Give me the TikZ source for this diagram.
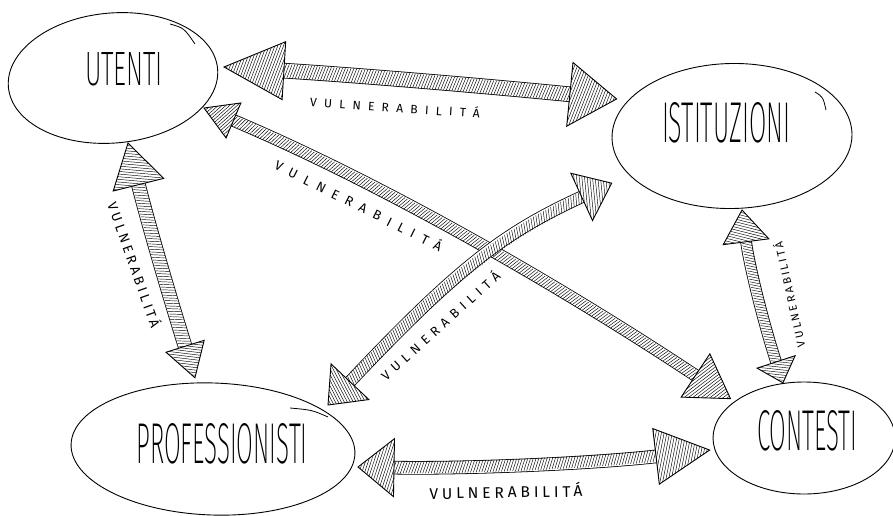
\documentclass[tikz,border=0pt]{standalone}
\usepackage{fontspec}
\usepackage{graphicx}
\setmainfont{Liberation Sans}
\IfFontExistsTF{Fira Sans ExtraLight}
  {\newfontfamily\thinf{Fira Sans ExtraLight}}
  {\IfFontExistsTF{Fira Sans Light}
     {\newfontfamily\thinf{Fira Sans Light}}
     {\newfontfamily\thinf{Liberation Sans}}}
\newfontfamily\labf{Fira Sans}
\usetikzlibrary{shapes.geometric,decorations.markings}

% #1 target width, #2 font size, #3 letter spacing
\newcommand\vul[3]{\resizebox{#1pt}{!}{\labf\fontsize{#2pt}{#2pt}\selectfont\addfontfeature{LetterSpace=#3}VULNERABILITÁ}}
\newcommand\ttlbox[3]{\resizebox{#1pt}{#2pt}{\thinf\fontsize{40pt}{40pt}\selectfont #3}}
% arrow head drawn in the local frame of a marking: #1 length, #2 half width, #3 side (+1 start, -1 end)
\newcommand\arrhead[3]{%
  \fill[white] (0pt,0pt) -- ({#3*#1*1pt},{#2*1pt}) -- ({#3*#1*1pt},{-#2*1pt}) -- cycle;
  \begin{scope}
    \clip (0pt,0pt) -- ({#3*#1*1pt},{#2*1pt}) -- ({#3*#1*1pt},{-#2*1pt}) -- cycle;
    \foreach \k in {-30,...,30}
      \draw[line width=0.45pt] ({\k*2.8pt-9pt},{-#2*1pt}) -- ++(18pt,{2*#2*1pt});
  \end{scope}
  \draw[line width=0.9pt, line join=miter] (0pt,0pt) -- ({#3*#1*1pt},{#2*1pt}) -- ({#3*#1*1pt},{-#2*1pt}) -- cycle;
}

\tikzset{
  ell/.style={draw, ellipse, line width=0.9pt, inner sep=0pt},
  ttl/.style={inner sep=0pt},
  lab/.style={inner sep=0pt},
  handline/.style={line width=0.8pt},
  hatched/.style n args={5}{%
    postaction={draw, line width=0.8pt, double=white, double distance=#1pt,
                shorten <={#2pt-1pt}, shorten >={#4pt-1pt}},
    postaction={decorate, decoration={markings,
      mark=between positions #2pt and -#4pt step 2.8pt with
        {\draw[line width=0.45pt] (-2.2pt,{-0.5*#1pt}) -- (2.2pt,{0.5*#1pt});}}},
    postaction={decorate, decoration={markings,
      mark=at position 0 with {\arrhead{#2}{#3}{1}},
      mark=at position 0.999 with {\arrhead{#4}{#5}{-1}}}}
  }
}

\begin{document}
\begin{tikzpicture}[x=1pt,y=-1pt]
\fill[white] (0,0) rectangle (893,516);
\useasboundingbox (0,0) rectangle (893,516);

% ellipses
\node[ell, minimum width=210pt, minimum height=130pt, rotate=5] (ut) at (113,78) {};
\node[ell, minimum width=240pt, minimum height=145pt, rotate=1] (is) at (732,136) {};
\node[ell, minimum width=284pt, minimum height=132pt, rotate=-2] (pr) at (213,449) {};
\node[ell, minimum width=182pt, minimum height=112pt] (co) at (804,438) {};

% hand-drawn overlaps of the ellipse strokes
\draw[handline] (170,24) .. controls (184,28) .. (195,44);
\draw[handline] (815,92) .. controls (823,97) .. (826,110);
\draw[handline] (290,408) .. controls (312,410) .. (328,417);

% titles
\node[ttl] (utt) at (124,69) {\ttlbox{78}{33}{UTENTI}};
\node[ttl] (ist) at (726,123) {\ttlbox{128}{40}{ISTITUZIONI}};
\node[ttl] (prt) at (222,444) {\ttlbox{171}{40}{PROFESSIONISTI}};
\node[ttl] (cot) at (807,431) {\ttlbox{100}{40}{CONTESTI}};

% arrow end points
\coordinate (a1s) at (224,67);  \coordinate (a1e) at (617,99);
\coordinate (a2s) at (204,108); \coordinate (a2e) at (731,399);
\coordinate (a3s) at (128,143); \coordinate (a3e) at (195,378);
\coordinate (a4s) at (328,405); \coordinate (a4e) at (612,183);
\coordinate (a5s) at (742,210); \coordinate (a5e) at (783,383);
\coordinate (a6s) at (358,467); \coordinate (a6e) at (710,450);

% arrows
\path[hatched={14}{60}{29}{47}{32}] (a1s) .. controls (355,75) and (486,86) .. (a1e);
\path[hatched={11}{32}{19}{42}{26}] (a2s) .. controls (379,182) and (556,283) .. (a2e);
\path[hatched={13}{43}{26}{33}{20}] (a3s) .. controls (148,223) and (170,298) .. (a3e);
\path[hatched={11}{32}{26}{33}{26}] (a4s) .. controls (460,265) and (505,232) .. (a4e);
\path[hatched={10}{32}{23}{22}{20}] (a5s) .. controls (749,265) and (764,325) .. (a5e);
\path[hatched={12}{36}{29}{54}{28}] (a6s) .. controls (470,469) and (600,463) .. (a6e);

% labels
\node[lab, rotate=-3.7] (l1) at (395,107) {\vul{170}{12}{60}};
\node[lab, rotate=-26.6] (l2) at (359,205) {\vul{185}{13}{60}};
\node[lab, rotate=-70.5] (l3) at (135,265) {\vul{132}{14}{24}};
\node[lab, rotate=42] (l4) at (440,325) {\vul{155}{13}{43}};
\node[lab, rotate=102.5] (l5) at (789,295) {\vul{107}{11.5}{23}};
\node[lab, rotate=1] (l6) at (506,491) {\vul{153}{16}{25}};
\end{tikzpicture}
\end{document}
